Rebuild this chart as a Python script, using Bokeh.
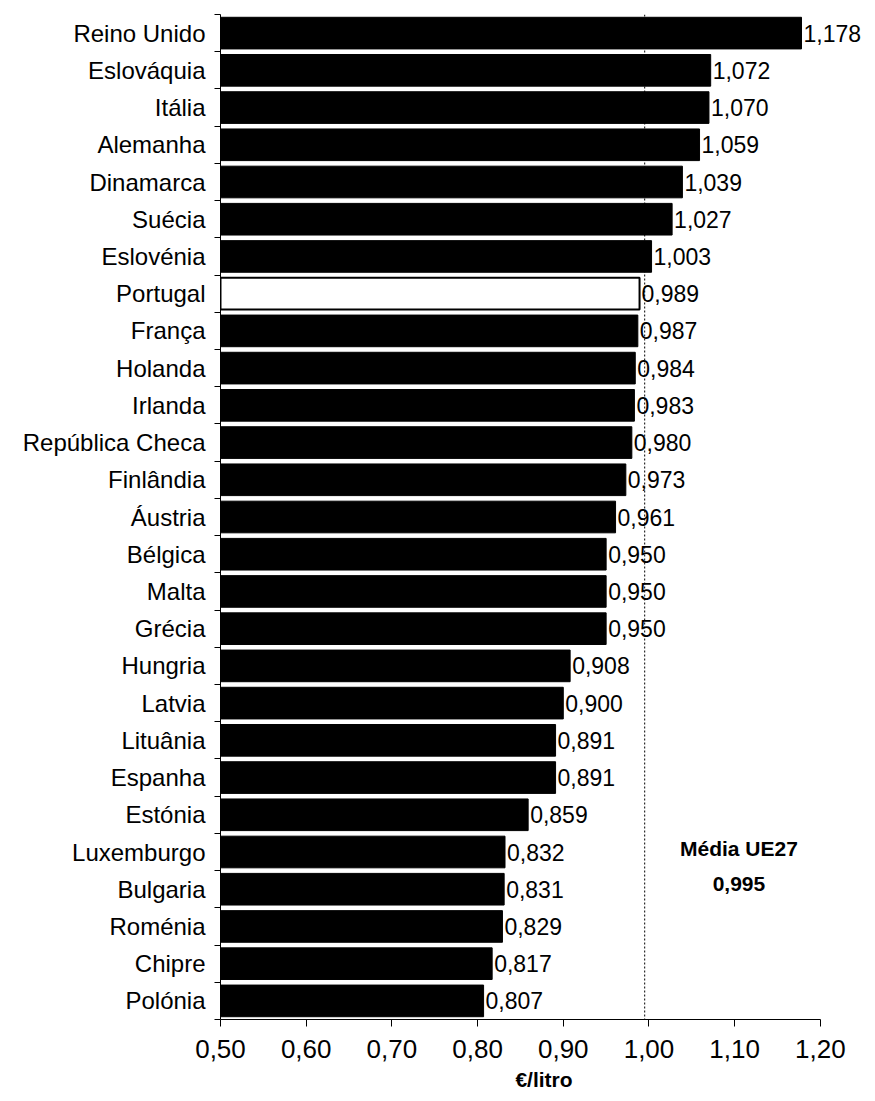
from bokeh.plotting import figure
from bokeh.models import FixedTicker, CustomJSTickFormatter, Span, Label, LabelSet, ColumnDataSource
from bokeh.core.properties import value
from bokeh.embed import file_html
from bokeh.resources import INLINE

countries = ["Reino Unido", "Eslováquia", "Itália", "Alemanha", "Dinamarca", "Suécia",
             "Eslovénia", "Portugal", "França", "Holanda", "Irlanda", "República Checa",
             "Finlândia", "Áustria", "Bélgica", "Malta", "Grécia", "Hungria", "Latvia",
             "Lituânia", "Espanha", "Estónia", "Luxemburgo", "Bulgaria", "Roménia",
             "Chipre", "Polónia"]
prices = [1.178, 1.072, 1.070, 1.059, 1.039, 1.027, 1.003, 0.989, 0.987, 0.984, 0.983,
          0.980, 0.973, 0.961, 0.950, 0.950, 0.950, 0.908, 0.900, 0.891, 0.891, 0.859,
          0.832, 0.831, 0.829, 0.817, 0.807]
highlight = "Portugal"
eu_average = 0.995
x_ticks = [0.50, 0.60, 0.70, 0.80, 0.90, 1.00, 1.10, 1.20]
x_start, x_end = 0.50, 1.20
x_label = "€/litro"
avg_title = "Média UE27"

FONT = "Liberation Sans"
n = len(countries)
ys = [n - 1 - i for i in range(n)]
fills = ["white" if c == highlight else "black" for c in countries]
widths = [2 if c == highlight else 1 for c in countries]
labels = [f"{v:.3f}".replace(".", ",") for v in prices]

src = ColumnDataSource(dict(y=ys, v=prices, fill=fills, lw=widths, lab=labels,
                            left=[x_start] * n))

# extra room on the right of the axis so the value labels are not clipped
p = figure(width=867, height=1093, output_backend="svg", toolbar_location=None,
           x_range=(x_start, x_end + 0.055), y_range=(-0.5, n - 0.5),
           min_border_left=220, min_border_right=0, min_border_top=14, min_border_bottom=73)
p.outline_line_color = None
p.xgrid.visible = False
p.ygrid.visible = False

p.hbar(y="y", left="left", right="v", height=0.85, fill_color="fill", line_color="black",
       line_width="lw", source=src)

p.add_layout(LabelSet(x="v", y="y", text="lab", source=src, x_offset=2, text_baseline="middle",
                      text_align="left", text_font=value(FONT), text_font_size="23px",
                      text_color="black"))

p.add_layout(Span(location=eu_average, dimension="height", line_color="black",
                  line_dash="2 2", line_width=1))

p.add_layout(Label(x=1.105, y=4.1, text=avg_title, text_align="center", text_baseline="middle",
                   text_font=FONT, text_font_style="bold", text_font_size="21px",
                   text_color="black"))
p.add_layout(Label(x=1.105, y=3.15, text=f"{eu_average:.3f}".replace(".", ","),
                   text_align="center", text_baseline="middle", text_color="black",
                   text_font=FONT, text_font_style="bold", text_font_size="21px"))

# y axis: labels at centers, tick marks between categories
yax = p.yaxis[0]
yax.ticker = FixedTicker(ticks=ys, minor_ticks=[k + 0.5 for k in range(-1, n)])
yax.major_label_overrides = {y: c for y, c in zip(ys, countries)}
yax.major_tick_out = 0
yax.major_tick_in = 0
yax.minor_tick_out = 6
yax.minor_tick_in = 0
yax.minor_tick_line_color = "black"
yax.axis_line_color = "black"
yax.major_label_standoff = 9
yax.major_label_text_font = FONT
yax.major_label_text_font_size = "24px"
yax.major_label_text_color = "black"

xax = p.xaxis[0]
xax.bounds = (x_start, x_end)
xax.ticker = FixedTicker(ticks=x_ticks, minor_ticks=[])
xax.formatter = CustomJSTickFormatter(code="return tick.toFixed(2).replace('.', ',');")
xax.major_tick_out = 7
xax.major_tick_in = 0
xax.axis_line_color = "black"
xax.major_tick_line_color = "black"
xax.major_label_standoff = 13
xax.major_label_text_font = FONT
xax.major_label_text_font_size = "26px"
xax.major_label_text_color = "black"
xax.axis_label = x_label
xax.axis_label_text_font = FONT
xax.axis_label_text_font_style = "bold"
xax.axis_label_text_font_size = "21px"
xax.axis_label_standoff = 7
xax.axis_label_text_color = "black"

open("out.html", "w").write(file_html(p, INLINE))
